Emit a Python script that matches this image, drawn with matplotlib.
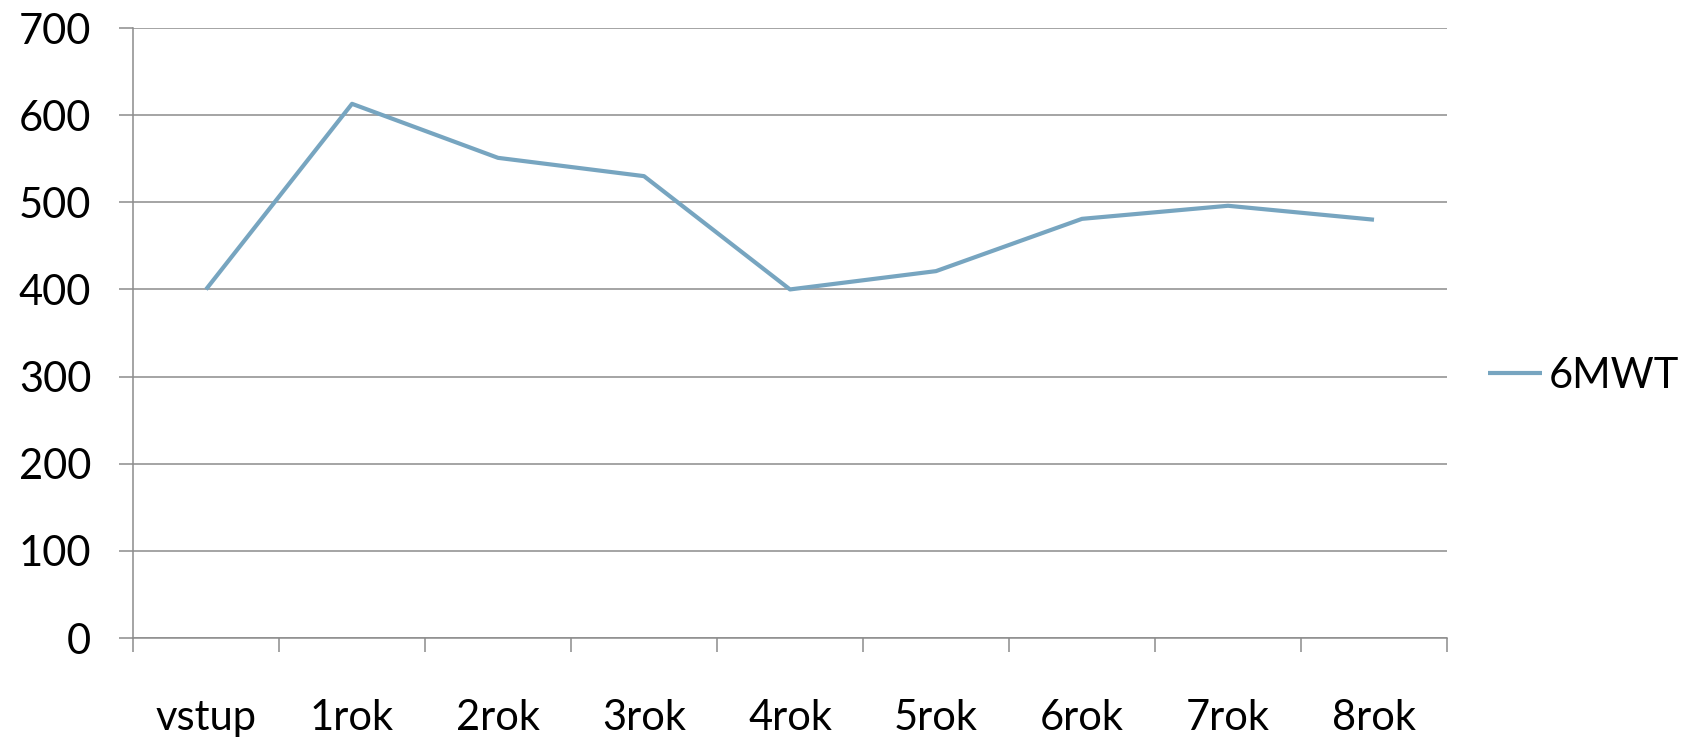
import matplotlib
matplotlib.use("Agg")
import matplotlib.pyplot as plt
import numpy as np

# data
categories = ["vstup", "1rok", "2rok", "3rok", "4rok", "5rok", "6rok", "7rok", "8rok"]
mwt = [400, 613, 551, 530, 400, 421, 481, 496, 480]
yticks = [0, 100, 200, 300, 400, 500, 600, 700]

plt.rcParams['font.family'] = ['Lato', 'DejaVu Sans']

fig = plt.figure(figsize=(16.88, 7.38), dpi=100)
ax = fig.add_axes([133 / 1688, 1 - 638 / 738, (1447 - 133) / 1688, (638 - 28) / 738])

x = np.arange(len(categories))
ax.plot(x, mwt, color='#77A5C0', linewidth=3.0, label='6MWT', solid_capstyle='butt')

ax.set_xlim(-0.5, len(categories) - 0.5)
ax.set_ylim(0, 700)
ax.set_yticks(yticks)
ax.set_yticklabels([str(v) for v in yticks], fontsize=30)
ax.yaxis.grid(True, color='#8C8C8C', linewidth=1.1)
ax.set_axisbelow(True)

# category labels centred between tick marks, tick marks on boundaries
ax.set_xticks(x)
ax.set_xticklabels(categories, fontsize=30)
ax.set_xticks(np.arange(len(categories) + 1) - 0.5, minor=True)
ax.tick_params(axis='x', which='major', length=0, pad=44)
ax.tick_params(axis='x', which='minor', length=10, width=1.1, color='#8C8C8C', direction='out')
ax.tick_params(axis='y', length=10, width=1.1, color='#8C8C8C', pad=20)

for s in ['top', 'right']:
    ax.spines[s].set_visible(False)
for s in ['left', 'bottom']:
    ax.spines[s].set_color('#8C8C8C')
    ax.spines[s].set_linewidth(1.1)

fig.legend(loc='center left', bbox_to_anchor=(1488 / 1688, 1 - 376 / 738),
           frameon=False, fontsize=30, handlelength=1.3, handletextpad=0.15, borderpad=0,
           borderaxespad=0)

fig.savefig("out.png", dpi=100)
